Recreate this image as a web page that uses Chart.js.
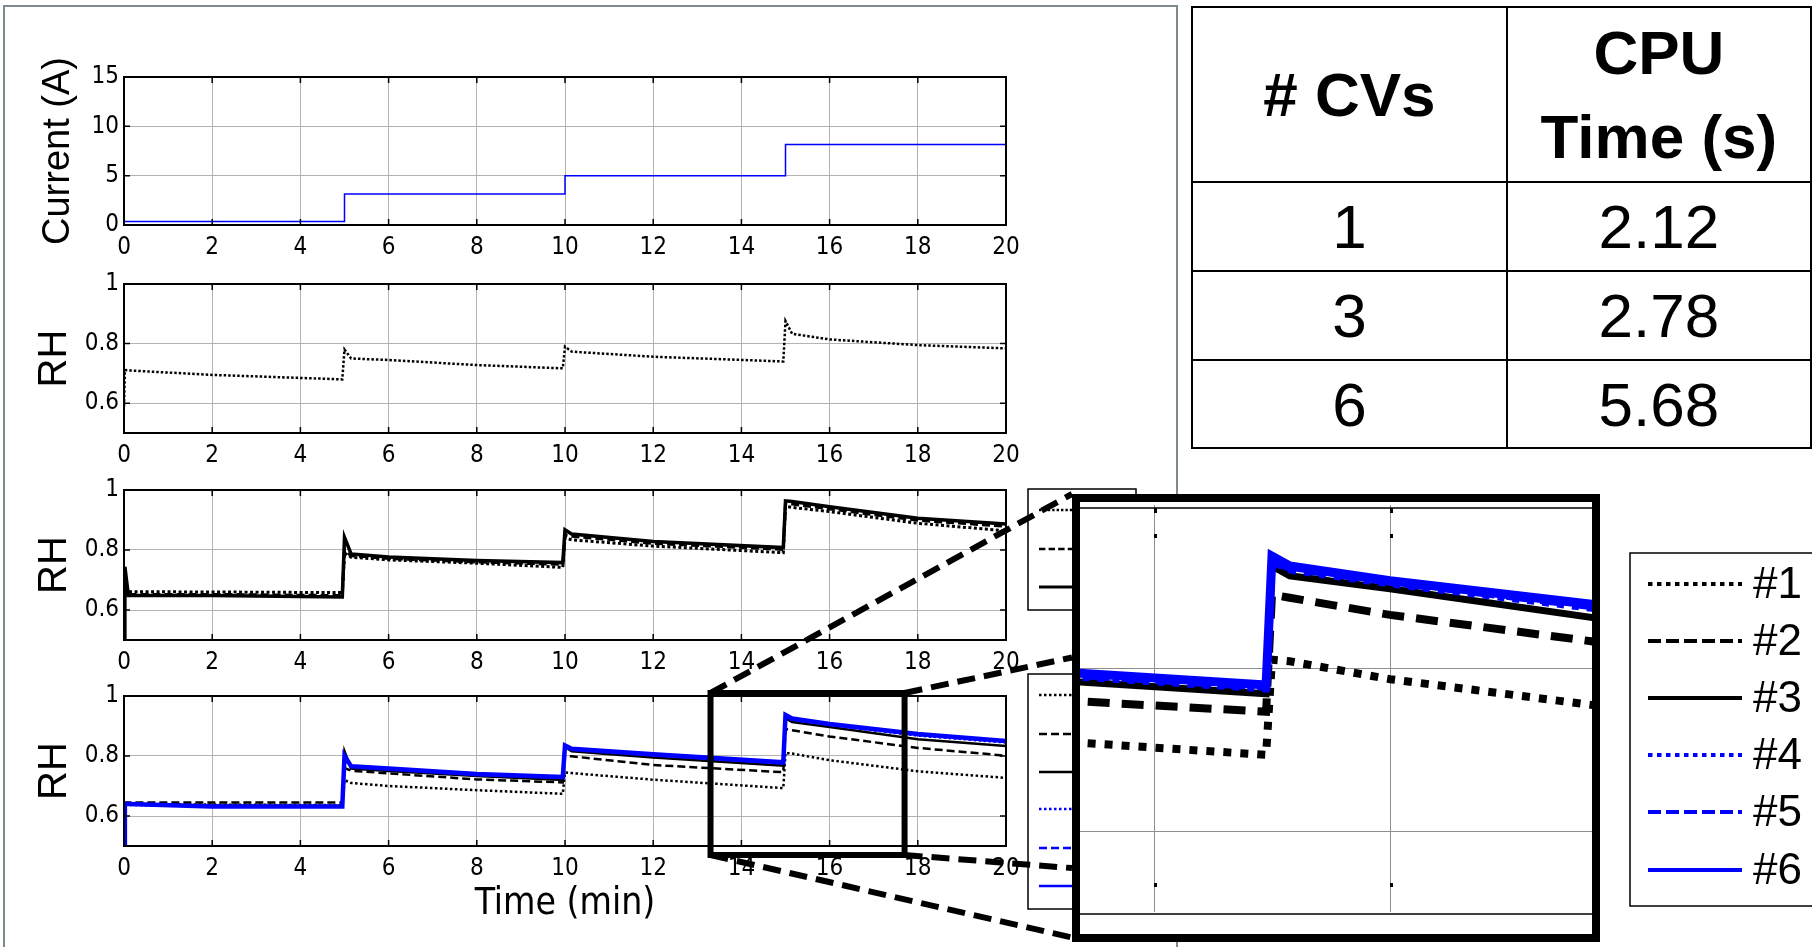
<!DOCTYPE html>
<html>
<head>
<meta charset="utf-8">
<script src="https://cdn.jsdelivr.net/npm/chart.js@4.4.1/dist/chart.umd.min.js"></script>
<style>
  body { margin: 0; background: #fff; width: 1812px; height: 947px; overflow: hidden; position: relative; font-family: "Liberation Sans", Arial, sans-serif; }
  canvas { position: absolute; }
  #panel { position: absolute; left: 3px; top: 5px; width: 1175px; height: 960px; border: 2px solid #7f8a8e; box-sizing: border-box; }
  #cpu { position: absolute; left: 1191px; top: 6px; border-collapse: collapse; font-family: "Liberation Sans", Arial, sans-serif; }
  #cpu td { border: 2.5px solid #000; text-align: center; vertical-align: middle; font-size: 62px; padding: 0; color: #000; }
  #cpu th { border: 2.5px solid #000; text-align: center; vertical-align: middle; font-size: 62px; padding: 0; line-height: 84px; }
</style>
</head>
<body>
<div id="panel"></div>
<table id="cpu"></table>
<canvas id="sub1" width="1036" height="208" style="left:0;top:57px"></canvas>
<canvas id="sub2" width="1036" height="209" style="left:0;top:264px"></canvas>
<canvas id="sub3" width="1036" height="210" style="left:0;top:470px"></canvas>
<canvas id="sub4" width="1036" height="270" style="left:0;top:676px"></canvas>
<canvas id="overlay" width="1812" height="947" style="left:0;top:0"></canvas>
<canvas id="inset" width="528" height="448" style="left:1072px;top:494px"></canvas>
<script>
// ---- data ----
const xTicks = [0, 2, 4, 6, 8, 10, 12, 14, 16, 18, 20];
const xTickLabels = ['0', '2', '4', '6', '8', '10', '12', '14', '16', '18', '20'];
const currentTicks = [0, 5, 10, 15];
const currentTickLabels = ['0', '5', '10', '15'];
const rhTicks = [0.6, 0.8, 1.0];
const rhTickLabels = ['0.6', '0.8', '1'];

// current step profile (A)
const currentTime = [0, 5, 10, 15, 20, 20];
const current = [0.35, 3.15, 5.0, 8.15, 8.15, 10.0];

// shared time stamps for the RH curves (min)
const timeRH = [0, 0.02, 0.1, 2, 4.95, 5, 5.15, 6, 8, 9.95, 10, 10.15, 12, 14.95, 15, 15.15, 16, 18, 20];

// 1 CV
const rh1cv = [0.59, 0.711, 0.710, 0.695, 0.680, 0.780, 0.750, 0.745, 0.728, 0.717, 0.790, 0.773, 0.756, 0.740, 0.876, 0.833, 0.814, 0.795, 0.784];

// 3 CVs
const rh3cv1 = [0.62, 0.661, 0.661, 0.660, 0.658, 0.790, 0.776, 0.767, 0.756, 0.742, 0.840, 0.834, 0.813, 0.791, 0.945, 0.942, 0.928, 0.889, 0.864];
const rh3cv2 = [0.55, 0.700, 0.652, 0.652, 0.648, 0.800, 0.781, 0.772, 0.760, 0.752, 0.850, 0.846, 0.822, 0.802, 0.955, 0.953, 0.937, 0.899, 0.879];
const rh3cv3 = [0.50, 0.744, 0.648, 0.648, 0.643, 0.842, 0.787, 0.777, 0.765, 0.758, 0.867, 0.853, 0.828, 0.808, 0.964, 0.962, 0.944, 0.906, 0.887];

// 6 CVs
const rh6cv1 = [0.62, 0.640, 0.640, 0.638, 0.636, 0.720, 0.710, 0.700, 0.686, 0.674, 0.745, 0.743, 0.721, 0.693, 0.810, 0.808, 0.786, 0.749, 0.727];
const rh6cv2 = [0.60, 0.645, 0.645, 0.645, 0.645, 0.760, 0.751, 0.742, 0.722, 0.712, 0.800, 0.799, 0.770, 0.746, 0.890, 0.886, 0.865, 0.827, 0.801];
const rh6cv3 = [0.55, 0.640, 0.640, 0.635, 0.633, 0.816, 0.758, 0.750, 0.733, 0.720, 0.830, 0.816, 0.795, 0.768, 0.925, 0.913, 0.897, 0.856, 0.833];
const rh6cv4 = [0.52, 0.637, 0.637, 0.632, 0.631, 0.800, 0.762, 0.754, 0.736, 0.726, 0.828, 0.820, 0.801, 0.774, 0.930, 0.920, 0.903, 0.868, 0.845];
const rh6cv5 = [0.51, 0.638, 0.638, 0.633, 0.632, 0.800, 0.764, 0.756, 0.738, 0.728, 0.830, 0.822, 0.803, 0.776, 0.932, 0.922, 0.905, 0.870, 0.847];
const rh6cv6 = [0.50, 0.640, 0.640, 0.632, 0.632, 0.800, 0.766, 0.758, 0.740, 0.730, 0.835, 0.824, 0.806, 0.779, 0.937, 0.925, 0.907, 0.873, 0.850];

const cvLabels = ['#1', '#2', '#3', '#4', '#5', '#6'];

// table
const tableHead = ['# CVs', 'CPU<br>Time (s)'];
const tableCVs = ['1', '3', '6'];
const tableCPU = ['2.12', '2.78', '5.68'];

// zoom window on the 6-CV plot
const zoomX = [13.3, 17.7];
const zoomY = [0.47, 1.01];
const insetX = [13.373, 17.712];
const insetY = [0.5, 1.0];
const insetGridX = [14, 16];
const insetGridY = [0.6, 0.8];

// ---- styles ----
const narrow = '"Liberation Sans Narrow", "Arial Narrow", "DejaVu Sans Condensed", sans-serif';
const sans = '"Liberation Sans", Arial, sans-serif';
const tickFont = { family: narrow, size: 24 };
const gridColor = '#b3b3b3';

const blk = '#000000', blu = '#0000ff';
const styles6 = [
  { borderColor: blk, borderDash: [2.5, 2.5], borderWidth: 2.5 },
  { borderColor: blk, borderDash: [8, 4], borderWidth: 2.5 },
  { borderColor: blk, borderDash: [], borderWidth: 2.5 },
  { borderColor: blu, borderDash: [2.5, 2.5], borderWidth: 2.5 },
  { borderColor: blu, borderDash: [8, 4], borderWidth: 2.5 },
  { borderColor: blu, borderDash: [], borderWidth: 4.5 }
];
const styles3 = [
  { borderColor: blk, borderDash: [3, 2.5], borderWidth: 3 },
  { borderColor: blk, borderDash: [8, 4], borderWidth: 3 },
  { borderColor: blk, borderDash: [], borderWidth: 3.5 }
];
const stylesInset = [
  { borderColor: blk, borderDash: [8, 9], borderWidth: 8 },
  { borderColor: blk, borderDash: [22, 12], borderWidth: 8 },
  { borderColor: blk, borderDash: [], borderWidth: 7 },
  { borderColor: blu, borderDash: [7, 8], borderWidth: 7 },
  { borderColor: blu, borderDash: [22, 12], borderWidth: 7 },
  { borderColor: blu, borderDash: [], borderWidth: 9 }
];

// ---- table ----
(function buildTable() {
  const t = document.getElementById('cpu');
  let html = '<tr style="height:175px"><th style="width:315px">' + tableHead[0] + '</th><th style="width:304px">' + tableHead[1] + '</th></tr>';
  const hs = [89, 89, 88];
  tableCVs.forEach((c, i) => {
    html += '<tr style="height:' + hs[i] + 'px"><td>' + c + '</td><td>' + tableCPU[i] + '</td></tr>';
  });
  t.innerHTML = html;
})();

// ---- plugins ----
const frameBox = {
  id: 'frameBox',
  afterDraw(chart, args, opts) {
    if (!opts.show) return;
    const { ctx, chartArea: a, scales } = chart;
    ctx.save();
    ctx.strokeStyle = '#000';
    ctx.lineWidth = 2;
    ctx.setLineDash([]);
    ctx.strokeRect(a.left, a.top, a.right - a.left, a.bottom - a.top);
    ctx.lineWidth = 1.5;
    ctx.beginPath();
    scales.x.ticks.forEach(t => {
      const px = scales.x.getPixelForValue(t.value);
      ctx.moveTo(px, a.bottom); ctx.lineTo(px, a.bottom - 6);
      ctx.moveTo(px, a.top); ctx.lineTo(px, a.top + 6);
    });
    scales.y.ticks.forEach(t => {
      const py = scales.y.getPixelForValue(t.value);
      ctx.moveTo(a.left, py); ctx.lineTo(a.left + 6, py);
      ctx.moveTo(a.right, py); ctx.lineTo(a.right - 6, py);
    });
    ctx.stroke();
    if (opts.zoom) {
      const x0 = scales.x.getPixelForValue(zoomX[0]), x1 = scales.x.getPixelForValue(zoomX[1]);
      const y0 = scales.y.getPixelForValue(zoomY[1]), y1 = scales.y.getPixelForValue(zoomY[0]);
      ctx.lineWidth = 6;
      ctx.strokeRect(x0, y0, x1 - x0, y1 - y0);
    }
    ctx.restore();
  }
};

const insetDeco = {
  id: 'insetDeco',
  beforeDraw(chart) {
    const { ctx, width, height } = chart;
    ctx.save();
    ctx.fillStyle = '#fff';
    ctx.fillRect(0, 0, width, height);
    ctx.restore();
  },
  beforeDatasetsDraw(chart) {
    const { ctx, chartArea: a, scales } = chart;
    ctx.save();
    ctx.strokeStyle = '#8f8f8f';
    ctx.lineWidth = 1;
    ctx.beginPath();
    insetGridX.forEach(v => {
      const px = Math.round(scales.x.getPixelForValue(v)) + 0.5;
      ctx.moveTo(px, a.top); ctx.lineTo(px, a.bottom);
    });
    insetGridY.forEach(v => {
      const py = Math.round(scales.y.getPixelForValue(v)) + 0.5;
      ctx.moveTo(a.left, py); ctx.lineTo(a.right, py);
    });
    ctx.stroke();
    ctx.strokeStyle = '#000';
    ctx.lineWidth = 1.5;
    ctx.beginPath();
    ctx.moveTo(a.left, a.top + 3); ctx.lineTo(a.right, a.top + 3);
    ctx.moveTo(a.left, a.bottom + 2); ctx.lineTo(a.right, a.bottom + 2);
    ctx.stroke();
    ctx.lineWidth = 3;
    ctx.beginPath();
    insetGridX.forEach(v => {
      const px = scales.x.getPixelForValue(v) + 1.5;
      ctx.moveTo(px, a.top + 3); ctx.lineTo(px, a.top + 8);
      ctx.moveTo(px, a.top + 29); ctx.lineTo(px, a.top + 33);
      ctx.moveTo(px, a.bottom - 29); ctx.lineTo(px, a.bottom - 25);
    });
    ctx.stroke();
    ctx.restore();
  },
  afterDraw(chart) {
    const { ctx, width, height } = chart;
    ctx.save();
    ctx.strokeStyle = '#000';
    ctx.lineWidth = 8;
    ctx.setLineDash([]);
    ctx.strokeRect(4, 4, width - 8, height - 8);
    ctx.restore();
  }
};

// ---- helpers ----
function lineSet(times, values, style, order) {
  return Object.assign({
    data: times.map((t, i) => ({ x: t, y: values[i] })),
    pointRadius: 0, tension: 0, fill: false, order: order,
    borderCapStyle: 'butt', borderJoinStyle: 'miter'
  }, style);
}

function plotOptions(p) {
  return {
    responsive: false,
    animation: false,
    events: [],
    layout: { padding: { top: 20, right: 30, left: 0, bottom: 0 } },
    plugins: { legend: { display: false }, tooltip: { enabled: false }, frameBox: { show: true, zoom: !!p.zoom } },
    scales: {
      x: {
        type: 'linear', min: 0, max: 20,
        afterBuildTicks: s => { s.ticks = xTicks.map(v => ({ value: v })); },
        afterFit: s => { s.height = p.xAxisH; },
        ticks: { color: '#000', font: tickFont, padding: 8, autoSkip: false, maxRotation: 0, callback: (v, i) => xTickLabels[i] },
        grid: { color: gridColor, drawTicks: false },
        border: { display: false },
        title: p.xTitle ? { display: true, text: p.xTitle, color: '#000', font: { family: narrow, size: 37 }, padding: { top: 0, bottom: 19 } } : { display: false }
      },
      y: {
        type: 'linear', min: p.yMin, max: p.yMax,
        afterBuildTicks: s => { s.ticks = p.yTicks.map(v => ({ value: v })); },
        afterFit: s => { s.width = 124; },
        ticks: { color: '#000', font: tickFont, padding: 5, callback: (v, i) => p.yLabels[i] },
        grid: { color: gridColor, drawTicks: false },
        border: { display: false },
        title: { display: true, text: p.yTitle, color: '#000', font: { family: sans, size: p.titleSize }, padding: { top: p.titlePad, bottom: 0 } }
      }
    }
  };
}

// ---- subplot 1: current ----
const sub1 = new Chart(document.getElementById('sub1'), {
  type: 'line',
  data: { datasets: [Object.assign(lineSet(currentTime, current, { borderColor: blu, borderWidth: 1.5, borderDash: [] }, 0), { stepped: true })] },
  options: plotOptions({ yMin: 0, yMax: 15, yTicks: currentTicks, yLabels: currentTickLabels, yTitle: 'Current (A)', titleSize: 38, titlePad: 36, xAxisH: 40 }),
  plugins: [frameBox]
});

// ---- subplot 2: 1 CV ----
const sub2 = new Chart(document.getElementById('sub2'), {
  type: 'line',
  data: { datasets: [lineSet(timeRH, rh1cv, { borderColor: blk, borderDash: [2.5, 2], borderWidth: 2.5 }, 0)] },
  options: plotOptions({ yMin: 0.5, yMax: 1, yTicks: rhTicks, yLabels: rhTickLabels, yTitle: 'RH', titleSize: 40, titlePad: 31, xAxisH: 40 }),
  plugins: [frameBox]
});

// ---- subplot 3: 3 CVs ----
const sub3 = new Chart(document.getElementById('sub3'), {
  type: 'line',
  data: { datasets: [rh3cv1, rh3cv2, rh3cv3].map((v, i) => lineSet(timeRH, v, styles3[i], 3 - i)) },
  options: plotOptions({ yMin: 0.5, yMax: 1, yTicks: rhTicks, yLabels: rhTickLabels, yTitle: 'RH', titleSize: 40, titlePad: 31, xAxisH: 40 }),
  plugins: [frameBox]
});

// ---- subplot 4: 6 CVs ----
const rh6 = [rh6cv1, rh6cv2, rh6cv3, rh6cv4, rh6cv5, rh6cv6];
const sub4 = new Chart(document.getElementById('sub4'), {
  type: 'line',
  data: { datasets: rh6.map((v, i) => lineSet(timeRH, v, styles6[i], 6 - i)) },
  options: plotOptions({ yMin: 0.5, yMax: 1, yTicks: rhTicks, yLabels: rhTickLabels, yTitle: 'RH', titleSize: 40, titlePad: 31, xAxisH: 100, xTitle: 'Time (min)', zoom: true }),
  plugins: [frameBox]
});

// ---- inset: magnified 6-CV window ----
const inset = new Chart(document.getElementById('inset'), {
  type: 'line',
  data: { datasets: rh6.map((v, i) => lineSet(timeRH, v, stylesInset[i], 6 - i)) },
  options: {
    responsive: false, animation: false, events: [],
    layout: { padding: { left: 8, right: 8, top: 11, bottom: 30 } },
    plugins: { legend: { display: false }, tooltip: { enabled: false } },
    scales: {
      x: { type: 'linear', display: false, min: insetX[0], max: insetX[1] },
      y: { type: 'linear', display: false, min: insetY[0], max: insetY[1] }
    }
  },
  plugins: [insetDeco]
});

// ---- overlay: legends and zoom connectors ----
(function drawOverlay() {
  const ctx = document.getElementById('overlay').getContext('2d');

  function legendBox(x, y, w, h, rows, styles, scale, lineLen, showText, font) {
    ctx.save();
    ctx.fillStyle = '#fff';
    ctx.fillRect(x, y, w, h);
    ctx.strokeStyle = '#000';
    ctx.lineWidth = 1.5;
    ctx.setLineDash([]);
    ctx.strokeRect(x, y, w, h);
    rows.forEach((ry, i) => {
      const st = styles[i];
      ctx.strokeStyle = st.borderColor;
      ctx.lineWidth = st.borderWidth * scale;
      ctx.setLineDash(st.borderDash.map(d => d * scale));
      ctx.beginPath();
      ctx.moveTo(x + lineLen[0], ry);
      ctx.lineTo(x + lineLen[1], ry);
      ctx.stroke();
      if (showText) {
        ctx.fillStyle = '#000';
        ctx.font = font;
        ctx.textBaseline = 'middle';
        ctx.fillText(cvLabels[i], x + lineLen[1] + 11, ry + 2);
      }
    });
    ctx.restore();
  }

  // legends of the 3-CV and 6-CV plots (mostly hidden behind the inset)
  legendBox(1028, 489, 108, 121, [510, 549, 587], styles3, 0.8, [11, 80], false);
  legendBox(1028, 674, 112, 235, [695, 734, 772, 809, 848, 886], styles6.map(s => Object.assign({}, s, { borderWidth: 2.5 })), 1, [11, 80], false);

  // main legend
  const bigStyles = styles6.map(s => ({ borderColor: s.borderColor, borderWidth: 4, borderDash: s.borderDash.length ? (s.borderDash[0] < 4 ? [4.5, 4.5] : [13, 5]) : [] }));
  legendBox(1630, 553, 200, 353, [584, 641, 698, 755, 812, 870], bigStyles, 1, [18, 112], true, '44px ' + sans);

  // connectors from the zoom box to the inset
  const c4 = sub4.canvas, ci = inset.canvas;
  const ox = c4.offsetLeft, oy = c4.offsetTop;
  const sx = sub4.scales.x, sy = sub4.scales.y;
  const bx0 = ox + sx.getPixelForValue(zoomX[0]), bx1 = ox + sx.getPixelForValue(zoomX[1]);
  const by0 = oy + sy.getPixelForValue(zoomY[1]), by1 = oy + sy.getPixelForValue(zoomY[0]);
  const il = ci.offsetLeft, it = ci.offsetTop, ih = ci.height;
  const links = [
    [bx0, by0, il, it],
    [bx1, by0, il, it + 0.365 * ih],
    [bx1, by1, il, it + 0.835 * ih],
    [bx0, by1, il, it + 0.99 * ih]
  ];
  ctx.save();
  ctx.strokeStyle = '#000';
  ctx.lineWidth = 6;
  ctx.setLineDash([18, 9]);
  links.forEach(l => {
    ctx.beginPath();
    ctx.moveTo(l[0], l[1]);
    ctx.lineTo(l[2], l[3]);
    ctx.stroke();
  });
  ctx.restore();
})();
</script>
</body>
</html>
